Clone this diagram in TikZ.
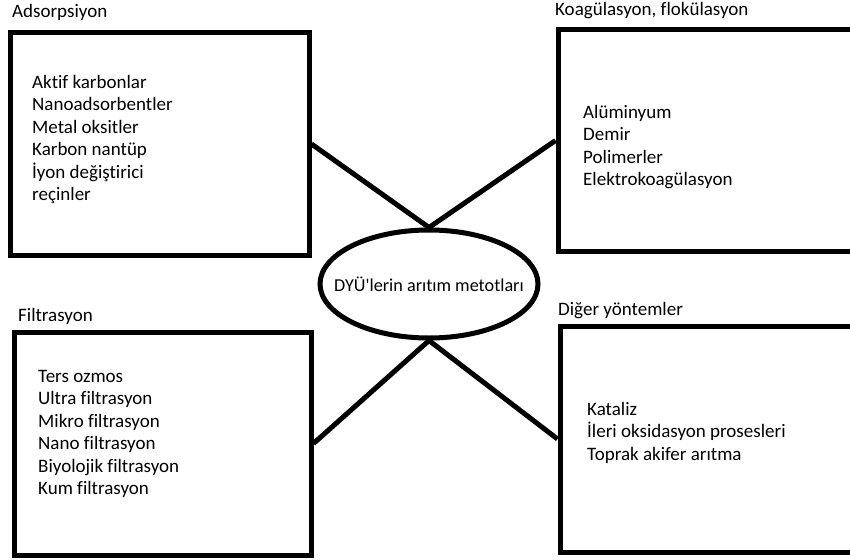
\documentclass[tikz,border=0pt]{standalone}
\usepackage{fontspec}
\setmainfont[Ligatures={TeXOff,CommonOff}]{Carlito}
\usetikzlibrary{shapes.geometric,positioning}
\newcommand{\dyufont}{\fontsize{19}{22.5}\selectfont}
\tikzset{
    dyubox/.style={draw, line width=5pt, inner sep=0pt},
    dyutitle/.style={font=\dyufont, anchor=base west, inner sep=0pt},
    dyulist/.style={font=\dyufont, align=left, anchor=north west, inner sep=0pt},
    dyucenter/.style={ellipse, draw, line width=5pt, font=\fontsize{18.2}{22}\selectfont, inner xsep=-19pt, inner ysep=0pt, minimum width=218pt, minimum height=108pt},
    dyulink/.style={line width=5pt}
}

\begin{document}
\begin{tikzpicture}[x=1pt, y=-1pt]
        \useasboundingbox (0,0) rectangle (850,559);
        \node[dyucenter] (center) at (429,284) {DYÜ'lerin arıtım metotları};

        \node[dyubox, minimum width=299pt, minimum height=222pt] (ads) at (159.5,144) {};
        \node[dyubox, minimum width=302pt, minimum height=221pt] (koag) at (709,140.5) {};
        \node[dyubox, minimum width=297pt, minimum height=223pt] (filt) at (162.5,443.5) {};
        \node[dyubox, minimum width=300pt, minimum height=226pt] (diger) at (710,439) {};

        \node[dyutitle] (adstitle) at (12,18) {Adsorpsiyon};
        \node[dyutitle] (koagtitle) at (555,16) {Koagülasyon, flokülasyon};
        \node[dyutitle] (filttitle) at (18,321) {Filtrasyon};
        \node[dyutitle] (digertitle) at (558,315) {Diğer yöntemler};

        \node[dyulist] (adslist) at (32,75) {Aktif karbonlar\\Nanoadsorbentler\\Metal oksitler\\Karbon nantüp\\İyon değiştirici\\reçinler};
        \node[dyulist] (koaglist) at (583,105) {Alüminyum\\Demir\\Polimerler\\Elektrokoagülasyon};
        \node[dyulist] (filtlist) at (38,370) {Ters ozmos\\Ultra filtrasyon\\Mikro filtrasyon\\Nano filtrasyon\\Biyolojik filtrasyon\\Kum filtrasyon};
        \node[dyulist] (digerlist) at (587,402) {Kataliz\\İleri oksidasyon prosesleri\\Toprak akifer arıtma};

        \draw[dyulink] (ads.east) -- (center.north);
        \draw[dyulink] (koag.west) -- (center.north);
        \draw[dyulink] (filt.east) -- (center.south);
        \draw[dyulink] (diger.west) -- (center.south);
\end{tikzpicture}
\end{document}
